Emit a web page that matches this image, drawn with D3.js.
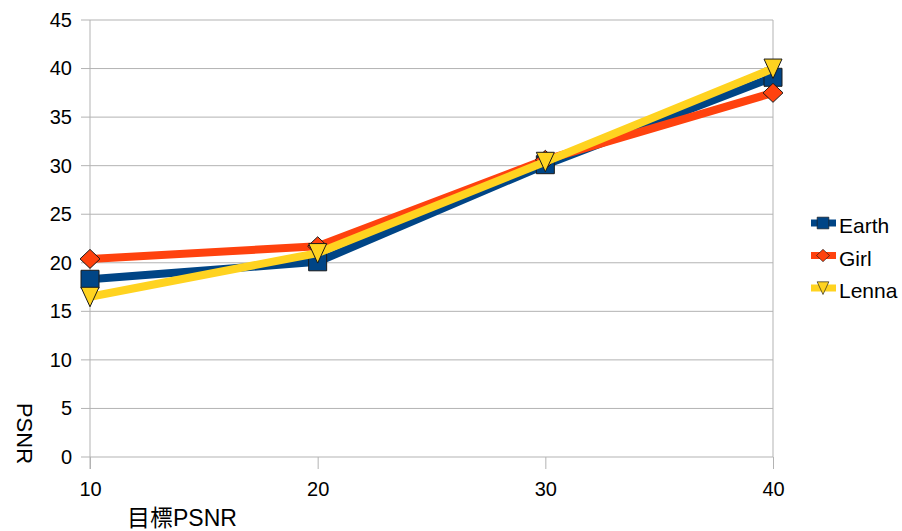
<!DOCTYPE html>
<html>
<head>
<meta charset="utf-8">
<script src="https://cdn.jsdelivr.net/npm/d3@7"></script>
<style>
  html, body { margin: 0; padding: 0; background: #fff; }
  svg { display: block; font-family: "Liberation Sans", Arial, sans-serif; }
</style>
</head>
<body>
<svg id="chart" width="902" height="531"></svg>
<script>
// Target PSNR on the x axis, achieved PSNR per image
const targets = [10, 20, 30, 40];
const earth = [18.3, 20.1, 30.1, 39.1];
const girl  = [20.4, 21.7, 30.6, 37.5];
const lenna = [16.5, 21.0, 30.4, 40.0];
const yTicks = [0, 5, 10, 15, 20, 25, 30, 35, 40, 45];
const seriesNames = ["Earth", "Girl", "Lenna"];
const seriesColors = ["#004586", "#ff420e", "#ffd320"];
const seriesShapes = ["square", "diamond", "triangle"];
const seriesValues = [earth, girl, lenna];

const svg = d3.select("#chart");
const plotLeft = 90, plotRight = 773, plotTop = 20, plotBottom = 457;
const fontStack = "'Liberation Sans', Arial, sans-serif";

const x = d3.scaleLinear().domain([10, 40]).range([plotLeft, plotRight]);
const y = d3.scaleLinear().domain([0, 45]).range([plotBottom, plotTop]);

// horizontal gridlines
svg.append("g").selectAll("line").data(yTicks).join("line")
  .attr("x1", plotLeft - 9).attr("x2", plotRight)
  .attr("y1", d => y(d)).attr("y2", d => y(d))
  .attr("stroke", "#b3b3b3").attr("stroke-width", 1);

// right border of the plot area
svg.append("line").attr("x1", plotRight).attr("x2", plotRight)
  .attr("y1", plotTop).attr("y2", plotBottom).attr("stroke", "#b3b3b3");

// y axis
const yAxis = svg.append("g").attr("transform", `translate(${plotLeft},0)`)
  .call(d3.axisLeft(y).tickValues(yTicks).tickSize(9).tickPadding(9).tickFormat(d3.format("d")));
yAxis.select(".domain").attr("stroke", "#b3b3b3").attr("d", `M0,${plotTop}V${plotBottom + 12}`);
yAxis.selectAll(".tick line").remove();
yAxis.selectAll("text").attr("font-size", 20).attr("fill", "#000").attr("font-family", fontStack);

// x axis
const xAxis = svg.append("g").attr("transform", `translate(0,${plotBottom})`)
  .call(d3.axisBottom(x).tickValues(targets).tickSize(12).tickPadding(13).tickFormat(d3.format("d")));
xAxis.select(".domain").remove();
xAxis.selectAll(".tick line").attr("stroke", "#b3b3b3");
xAxis.selectAll("text").attr("font-size", 20).attr("fill", "#000").attr("font-family", fontStack);

// axis titles
svg.append("text").attr("x", 127).attr("y", 526)
  .attr("font-size", 23).attr("font-family", "'Liberation Sans', 'Noto Sans CJK TC', sans-serif")
  .text("目標PSNR");
svg.append("text").attr("transform", "translate(17,433.5) rotate(90)")
  .attr("text-anchor", "middle").attr("font-size", 22)
  .text("PSNR");

function marker(g, shape, color) {
  const p = g.append("path").attr("fill", color).attr("stroke", "#1a1a1a").attr("stroke-width", 1);
  if (shape === "square") p.attr("d", "M-9,-9H9V9H-9Z");
  else if (shape === "diamond") p.attr("d", "M0,-9.5L10,0L0,9.5L-10,0Z");
  else p.attr("d", "M-9,-9.5L9,-9.5L0,10Z");
}

const line = d3.line().x((d, i) => x(targets[i])).y(d => y(d));

seriesValues.forEach((vals, s) => {
  const g = svg.append("g");
  g.append("path").datum(vals).attr("d", line)
    .attr("fill", "none").attr("stroke", seriesColors[s])
    .attr("stroke-width", 8).attr("stroke-linejoin", "round");
  vals.forEach((v, i) => {
    const m = g.append("g").attr("transform", `translate(${x(targets[i])},${y(v)})`);
    marker(m, seriesShapes[s], seriesColors[s]);
  });
});

// legend
const legend = svg.append("g");
seriesNames.forEach((name, s) => {
  const ly = 223 + s * 32.5;
  const g = legend.append("g").attr("transform", `translate(0,${ly})`);
  g.append("line").attr("x1", 811).attr("x2", 836).attr("y1", 0).attr("y2", 0)
    .attr("stroke", seriesColors[s]).attr("stroke-width", 7);
  const m = g.append("g").attr("transform", "translate(823,0) scale(0.65)");
  marker(m, seriesShapes[s], seriesColors[s]);
  g.append("text").attr("x", 839).attr("y", 10).attr("font-size", 21).text(name);
});
</script>
</body>
</html>
